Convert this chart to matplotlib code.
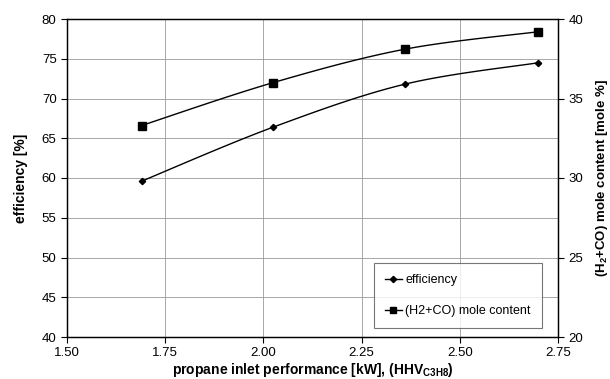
import matplotlib
matplotlib.use("Agg")
import matplotlib.pyplot as plt
import numpy as np
from matplotlib.lines import Line2D

plt.rcParams["font.family"] = ["Liberation Sans", "DejaVu Sans"]
plt.rcParams["mathtext.fontset"] = "custom"
plt.rcParams["mathtext.rm"] = "Liberation Sans:bold"
plt.rcParams["mathtext.bf"] = "Liberation Sans:bold"
plt.rcParams["mathtext.default"] = "bf"

# propane inlet performance [kW]
power_kw = [1.69, 2.025, 2.36, 2.70]
efficiency = [59.6, 66.4, 71.8, 74.5]
syngas_content = [33.3, 36.0, 38.1, 39.2]

x_ticks = [1.50, 1.75, 2.00, 2.25, 2.50, 2.75]
eff_ticks = [40, 45, 50, 55, 60, 65, 70, 75, 80]
mole_ticks = [20, 25, 30, 35, 40]


def smooth(xs, ys, n=30):
    """Catmull-Rom style smoothing through the points (spreadsheet 'smoothed line')."""
    xs = np.asarray(xs, float)
    ys = np.asarray(ys, float)
    px = np.concatenate([[xs[0]], xs, [xs[-1]]])
    py = np.concatenate([[ys[0]], ys, [ys[-1]]])
    out_x, out_y = [], []
    t = np.linspace(0, 1, n)
    for i in range(1, len(px) - 2):
        p0 = np.array([px[i], py[i]])
        p3 = np.array([px[i + 1], py[i + 1]])
        p1 = p0 + (np.array([px[i + 1], py[i + 1]]) - np.array([px[i - 1], py[i - 1]])) / 6
        p2 = p3 - (np.array([px[i + 2], py[i + 2]]) - np.array([px[i], py[i]])) / 6
        b = ((1 - t) ** 3)[:, None] * p0 + (3 * (1 - t) ** 2 * t)[:, None] * p1 \
            + (3 * (1 - t) * t ** 2)[:, None] * p2 + (t ** 3)[:, None] * p3
        out_x.extend(b[:, 0])
        out_y.extend(b[:, 1])
    return out_x, out_y


fig = plt.figure(figsize=(6.10, 3.79), dpi=100)
ax = fig.add_axes([67 / 610, 1 - 337 / 379, (558 - 67) / 610, (337 - 19) / 379])
ax2 = ax.twinx()

ax.set_xlim(1.50, 2.75)
ax.set_ylim(40, 80)
ax2.set_ylim(20, 40)
ax.set_xticks(x_ticks)
ax.set_xticklabels([f"{v:.2f}" for v in x_ticks])
ax.set_yticks(eff_ticks)
ax2.set_yticks(mole_ticks)

ax.grid(True, color="#9a9a9a", linewidth=0.6)
ax.set_axisbelow(True)

for a in (ax, ax2):
    for s in a.spines.values():
        s.set_color("black")
        s.set_linewidth(0.9)
    a.tick_params(direction="out", length=4, width=0.8, labelsize=9.5, colors="black")

sx, sy = smooth(power_kw, efficiency)
ax.plot(sx, sy, color="black", linewidth=1.0, zorder=3)
ax.plot(power_kw, efficiency, linestyle="none", marker="D", markersize=3.2,
        color="black", zorder=4)

mx, my = smooth(power_kw, syngas_content)
ax2.plot(mx, my, color="black", linewidth=1.0, zorder=3)
ax2.plot(power_kw, syngas_content, linestyle="none", marker="s", markersize=5.5,
         color="black", zorder=4)

ax.set_ylabel("efficiency [%]", fontsize=10, fontweight="bold", labelpad=10)
ax2.set_ylabel("(H$_2$+CO) mole content [mole %]", fontsize=9.5, fontweight="bold",
               labelpad=8)
ax.set_xlabel("propane inlet performance [kW], (HHV$_{C3H8}$)", fontsize=10,
              fontweight="bold", labelpad=1)

handles = [
    Line2D([], [], color="black", linewidth=1.0, marker="D", markersize=3.2),
    Line2D([], [], color="black", linewidth=1.0, marker="s", markersize=5),
]
leg = fig.legend(handles, ["efficiency", "(H2+CO) mole content"],
                 loc="upper left", bbox_to_anchor=(374 / 610, 1 - 263 / 379),
                 fontsize=9, frameon=True, fancybox=False, handlelength=1.3,
                 handletextpad=0.3, labelspacing=1.5, borderpad=0.9,
                 borderaxespad=0)
leg.get_frame().set_edgecolor("#555555")
leg.get_frame().set_linewidth(0.8)

fig.savefig("out.png", dpi=100)
